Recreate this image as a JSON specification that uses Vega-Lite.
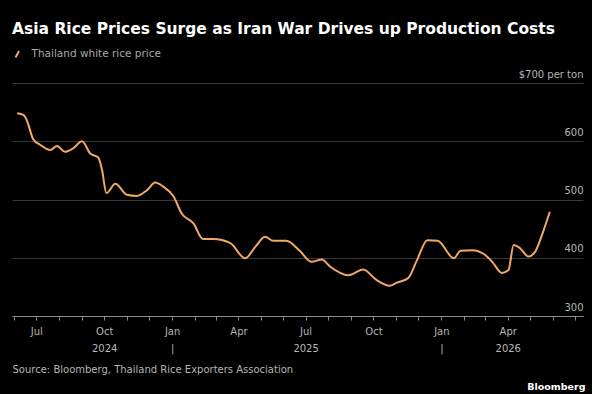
{
  "$schema": "https://vega.github.io/schema/vega-lite/v6.json",
  "width": 571,
  "height": 233,
  "autosize": {"type": "none"},
  "padding": {"left": 12, "top": 83, "right": 9, "bottom": 78},
  "background": "#000000",
  "title": {
    "text": "Asia Rice Prices Surge as Iran War Drives up Production Costs",
    "anchor": "start",
    "frame": "group",
    "font": "DejaVu Sans",
    "fontSize": 15.5,
    "fontWeight": "bold",
    "color": "#ffffff",
    "baseline": "alphabetic",
    "offset": 0
  },
  "data": {
    "values": [
      {"date": "2024-06-05", "price": 648, "series": "Thailand white rice price"},
      {"date": "2024-06-14", "price": 645, "series": "Thailand white rice price"},
      {"date": "2024-06-18", "price": 636, "series": "Thailand white rice price"},
      {"date": "2024-06-27", "price": 603, "series": "Thailand white rice price"},
      {"date": "2024-07-06", "price": 594, "series": "Thailand white rice price"},
      {"date": "2024-07-20", "price": 585, "series": "Thailand white rice price"},
      {"date": "2024-07-29", "price": 592, "series": "Thailand white rice price"},
      {"date": "2024-08-09", "price": 582, "series": "Thailand white rice price"},
      {"date": "2024-08-20", "price": 588, "series": "Thailand white rice price"},
      {"date": "2024-09-01", "price": 600, "series": "Thailand white rice price"},
      {"date": "2024-09-12", "price": 579, "series": "Thailand white rice price"},
      {"date": "2024-09-23", "price": 572, "series": "Thailand white rice price"},
      {"date": "2024-09-28", "price": 551, "series": "Thailand white rice price"},
      {"date": "2024-10-04", "price": 511, "series": "Thailand white rice price"},
      {"date": "2024-10-16", "price": 527, "series": "Thailand white rice price"},
      {"date": "2024-11-01", "price": 508, "series": "Thailand white rice price"},
      {"date": "2024-11-14", "price": 506, "series": "Thailand white rice price"},
      {"date": "2024-11-28", "price": 516, "series": "Thailand white rice price"},
      {"date": "2024-12-09", "price": 529, "series": "Thailand white rice price"},
      {"date": "2024-12-20", "price": 522, "series": "Thailand white rice price"},
      {"date": "2025-01-03", "price": 505, "series": "Thailand white rice price"},
      {"date": "2025-01-14", "price": 476, "series": "Thailand white rice price"},
      {"date": "2025-01-30", "price": 459, "series": "Thailand white rice price"},
      {"date": "2025-02-12", "price": 432, "series": "Thailand white rice price"},
      {"date": "2025-02-26", "price": 432, "series": "Thailand white rice price"},
      {"date": "2025-03-21", "price": 425, "series": "Thailand white rice price"},
      {"date": "2025-04-10", "price": 399, "series": "Thailand white rice price"},
      {"date": "2025-04-24", "price": 419, "series": "Thailand white rice price"},
      {"date": "2025-05-07", "price": 436, "series": "Thailand white rice price"},
      {"date": "2025-05-18", "price": 429, "series": "Thailand white rice price"},
      {"date": "2025-06-05", "price": 429, "series": "Thailand white rice price"},
      {"date": "2025-06-23", "price": 412, "series": "Thailand white rice price"},
      {"date": "2025-07-09", "price": 393, "series": "Thailand white rice price"},
      {"date": "2025-07-23", "price": 397, "series": "Thailand white rice price"},
      {"date": "2025-08-03", "price": 385, "series": "Thailand white rice price"},
      {"date": "2025-08-28", "price": 370, "series": "Thailand white rice price"},
      {"date": "2025-09-17", "price": 380, "series": "Thailand white rice price"},
      {"date": "2025-10-05", "price": 362, "series": "Thailand white rice price"},
      {"date": "2025-10-23", "price": 352, "series": "Thailand white rice price"},
      {"date": "2025-11-01", "price": 357, "series": "Thailand white rice price"},
      {"date": "2025-11-17", "price": 365, "series": "Thailand white rice price"},
      {"date": "2025-11-29", "price": 396, "series": "Thailand white rice price"},
      {"date": "2025-12-13", "price": 430, "series": "Thailand white rice price"},
      {"date": "2025-12-27", "price": 429, "series": "Thailand white rice price"},
      {"date": "2026-01-18", "price": 399, "series": "Thailand white rice price"},
      {"date": "2026-01-27", "price": 412, "series": "Thailand white rice price"},
      {"date": "2026-02-12", "price": 413, "series": "Thailand white rice price"},
      {"date": "2026-02-28", "price": 406, "series": "Thailand white rice price"},
      {"date": "2026-03-11", "price": 393, "series": "Thailand white rice price"},
      {"date": "2026-03-24", "price": 374, "series": "Thailand white rice price"},
      {"date": "2026-04-02", "price": 379, "series": "Thailand white rice price"},
      {"date": "2026-04-09", "price": 422, "series": "Thailand white rice price"},
      {"date": "2026-04-18", "price": 416, "series": "Thailand white rice price"},
      {"date": "2026-04-29", "price": 402, "series": "Thailand white rice price"},
      {"date": "2026-05-08", "price": 410, "series": "Thailand white rice price"},
      {"date": "2026-05-19", "price": 445, "series": "Thailand white rice price"},
      {"date": "2026-05-28", "price": 479, "series": "Thailand white rice price"}
    ]
  },
  "mark": {"type": "line", "strokeWidth": 2, "interpolate": "monotone"},
  "encoding": {
    "x": {
      "field": "date",
      "type": "temporal",
      "scale": {"type": "utc", "domain": [{"year": 2024, "month": 5, "date": 29, "utc": true}, {"year": 2026, "month": 7, "date": 12, "utc": true}]},
      "axis": {
        "title": "Source: Bloomberg, Thailand Rice Exporters Association",
        "titleX": 0,
        "titleY": 56,
        "titleAlign": "left",
        "titleAnchor": "start",
        "titleBaseline": "alphabetic",
        "titleFont": "DejaVu Sans",
        "titleFontSize": 10,
        "titleFontWeight": "normal",
        "titleColor": "#b5b5b5",
        "grid": false,
        "domain": true,
        "domainColor": "#8a8a8a",
        "domainWidth": 1,
        "ticks": true,
        "tickColor": "#8a8a8a",
        "tickSize": 4,
        "tickCount": {"interval": "month", "step": 1},
        "labelExpr": "utcmonth(datum.value)==0 ? ['Jan', (utcyear(datum.value)==2025 || utcyear(datum.value)==2026) ? '|' : ''] : utcmonth(datum.value)==3 ? ['Apr', utcyear(datum.value)==2026 ? '2026' : ''] : (utcmonth(datum.value)==6 && utcyear(datum.value) < 2026) ? ['Jul', utcyear(datum.value)==2025 ? '2025' : ''] : utcmonth(datum.value)==9 ? ['Oct', utcyear(datum.value)==2024 ? '2024' : ''] : ''",
        "labelFont": "DejaVu Sans",
        "labelFontSize": 10,
        "labelColor": "#b5b5b5",
        "labelPadding": 6,
        "labelLineHeight": 17,
        "labelOverlap": false,
        "labelBound": false,
        "labelFlush": false
      }
    },
    "y": {
      "field": "price",
      "type": "quantitative",
      "scale": {"domain": [300, 700], "nice": false, "zero": false},
      "axis": {
        "orient": "right",
        "values": [300, 400, 500, 600, 700],
        "title": "Bloomberg",
        "titleAngle": 0,
        "titleX": 2,
        "titleY": 306,
        "titleAlign": "right",
        "titleBaseline": "alphabetic",
        "titleFont": "DejaVu Sans",
        "titleFontSize": 9.5,
        "titleFontWeight": "bold",
        "titleColor": "#ffffff",
        "grid": true,
        "gridColor": "#383838",
        "gridWidth": 1.2,
        "domain": false,
        "ticks": false,
        "tickSize": 0,
        "labelAlign": "right",
        "labelBaseline": "alphabetic",
        "labelPadding": 0,
        "labelOffset": -6,
        "labelExpr": "datum.value == 700 ? '$700 per ton' : datum.label",
        "labelFont": "DejaVu Sans",
        "labelFontSize": 10,
        "labelColor": "#b5b5b5"
      }
    },
    "color": {
      "field": "series",
      "type": "nominal",
      "scale": {"range": ["#f2a864"]},
      "legend": {
        "title": null,
        "orient": "none",
        "legendX": 0,
        "legendY": -34,
        "padding": 0,
        "symbolType": "M-0.5,0.9L0.5,-0.9",
        "symbolSize": 49,
        "symbolStrokeWidth": 2,
        "labelOffset": 9,
        "labelFont": "DejaVu Sans",
        "labelFontSize": 10.5,
        "labelColor": "#a8a8a8"
      }
    }
  },
  "config": {
    "view": {"stroke": null}
  }
}
